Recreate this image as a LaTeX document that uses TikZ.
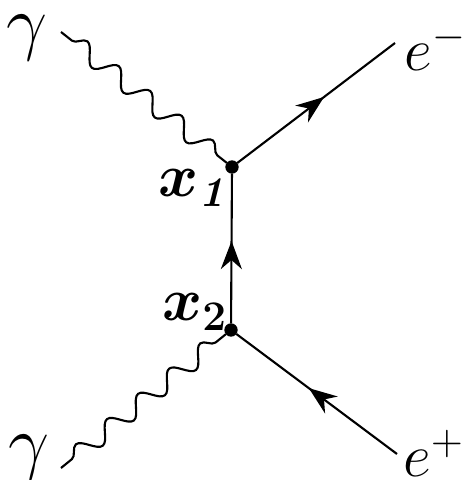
\documentclass[tikz,border=0pt]{standalone}
\usepackage{amsmath}
\usepackage{amssymb}
\usepackage{bm}
\usepackage{tikz}
\usetikzlibrary{arrows.meta}
\usetikzlibrary{decorations.pathmorphing}
\usetikzlibrary{decorations.markings}

\begin{document}
\begin{tikzpicture}
	[x=0.01cm, y=-0.01cm,
	vertex/.style={inner sep = 1.2pt, circle,draw,fill=black},
	fermion/.style={line width=0.6pt, postaction={decorate},
		decoration={markings,mark=at position 0.55 with {\arrow{Stealth[length=8pt,width=6pt]}}}},
	photon/.style={line width=0.6pt, decorate,
		decoration={snake,amplitude=0.09cm,segment length=0.4cm,pre length=0.14cm,post length=0.04cm}}]

	\useasboundingbox (0,0) rectangle (471,480);

	\node[vertex] (x1) at (232,167) {};
	\node[vertex] (x2) at (231,330) {};
	\coordinate (gtop) at (61,32);
	\coordinate (gbot) at (61,468);
	\coordinate (em) at (395,43);
	\coordinate (ep) at (397,454);

	\draw[photon] (gtop) -- (x1);
	\draw[photon] (gbot) -- (x2);
	\draw[fermion] (x1) -- (em);
	\draw[fermion] (x2) -- (x1);
	\draw[fermion] (ep) -- (x2);

	\node (gammatop) at (27,38) {\huge$\gamma$};
	\node (gammabot) at (29,458) {\huge$\gamma$};
	\node (lem) at (436,47) {\LARGE$e^-$};
	\node (lep) at (434,453) {\LARGE$e^+$};
	\node (lx1) at (195,188) {\LARGE$\bm{x_{\mathit{1}}}$};
	\node (lx2) at (195,312) {\LARGE$\bm{x_2}$};

\end{tikzpicture}
\end{document}
